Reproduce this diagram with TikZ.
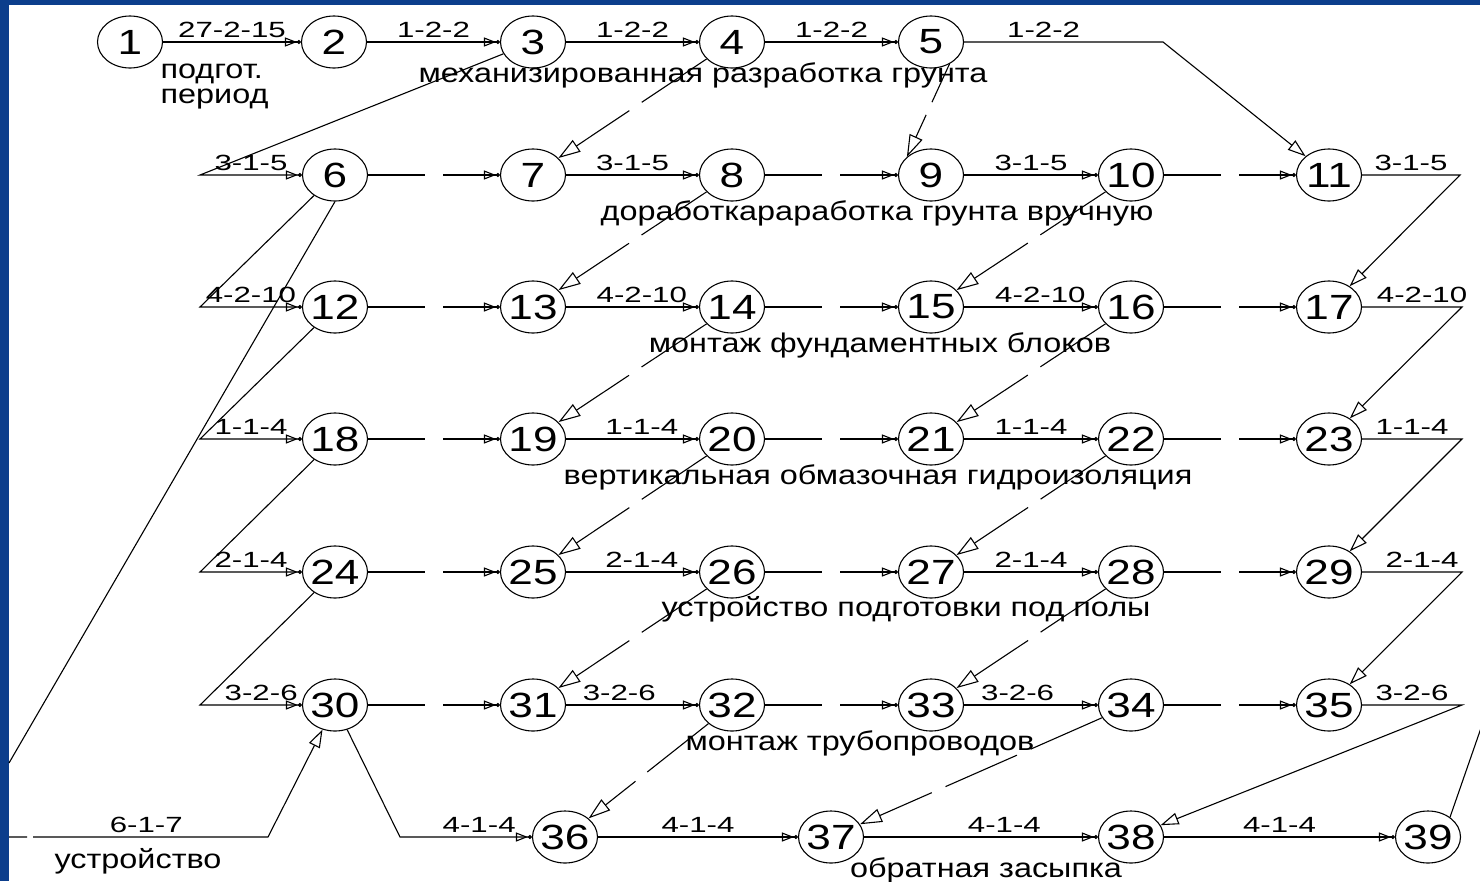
\documentclass[tikz,border=0pt]{standalone}
\usepackage{fontspec}
\setmainfont{Liberation Sans}
\newfontfamily\numfont[FakeStretch=1.26]{Liberation Sans}
\newfontfamily\lblfont[FakeStretch=1.42]{Liberation Sans}
\newfontfamily\txtfont[FakeStretch=1.2]{Liberation Sans}
\usetikzlibrary{positioning,calc,arrows.meta,shapes.geometric}
\definecolor{slideblue}{RGB}{12,62,140}

\begin{document}
\begin{tikzpicture}
		[x=1pt, y=-1pt, line width=1.1pt,
		ev/.style={draw, ellipse, minimum width=65pt, minimum height=52pt,
			inner xsep=-6pt, inner ysep=0pt, font=\numfont\fontsize{35}{35}\selectfont},
		lbl/.style={above, inner sep=4pt, font=\lblfont\fontsize{22}{22}\selectfont},
		txt/.style={anchor=base, inner sep=0pt, font=\txtfont\fontsize{27}{27}\selectfont},
		work/.style={-{Triangle[open,length=12pt,width=9pt] Circle[length=4pt]}},
		wait/.style={work, dash pattern=on 57pt off 18pt on 400pt},
		turn/.style={-{Triangle[open,length=18pt,width=12pt]}},
		dep/.style={dash pattern=on 78pt off 15pt, -{Triangle[open,length=22pt,width=14pt]}}]
		\useasboundingbox (0,0) rectangle (1480,881);
		\clip (0,0) rectangle (1480,881);
		\fill[slideblue] (0,0) rectangle (1480,881);
		\fill[white] (9,5) rectangle (1481,882);

		% events
		\node[ev] (n1) at (130,42) {1};
		\node[ev] (n2) at (334,42) {2};
		\node[ev] (n3) at (533,42) {3};
		\node[ev] (n4) at (732,42) {4};
		\node[ev] (n5) at (931,42) {5};
		\node[ev] (n6) at (335,175) {6};
		\node[ev] (n7) at (533,175) {7};
		\node[ev] (n8) at (732,175) {8};
		\node[ev] (n9) at (931,175) {9};
		\node[ev] (n10) at (1131,175) {10};
		\node[ev] (n11) at (1329,175) {11};
		\node[ev] (n12) at (335,307) {12};
		\node[ev] (n13) at (533,307) {13};
		\node[ev] (n14) at (732,307) {14};
		\node[ev] (n15) at (931,307) {15};
		\node[ev] (n16) at (1131,307) {16};
		\node[ev] (n17) at (1329,307) {17};
		\node[ev] (n18) at (335,439) {18};
		\node[ev] (n19) at (533,439) {19};
		\node[ev] (n20) at (732,439) {20};
		\node[ev] (n21) at (931,439) {21};
		\node[ev] (n22) at (1131,439) {22};
		\node[ev] (n23) at (1329,439) {23};
		\node[ev] (n24) at (335,572) {24};
		\node[ev] (n25) at (533,572) {25};
		\node[ev] (n26) at (732,572) {26};
		\node[ev] (n27) at (931,572) {27};
		\node[ev] (n28) at (1131,572) {28};
		\node[ev] (n29) at (1329,572) {29};
		\node[ev] (n30) at (335,705) {30};
		\node[ev] (n31) at (533,705) {31};
		\node[ev] (n32) at (732,705) {32};
		\node[ev] (n33) at (931,705) {33};
		\node[ev] (n34) at (1131,705) {34};
		\node[ev] (n35) at (1329,705) {35};
		\node[ev] (n36) at (565,837) {36};
		\node[ev] (n37) at (831,837) {37};
		\node[ev] (n38) at (1131,837) {38};
		\node[ev] (n39) at (1428,837) {39};

		% corners of the broken works
		\coordinate (c3) at (200,175);
		\coordinate (c6) at (200,307);
		\coordinate (c12) at (200,439);
		\coordinate (c18) at (200,572);
		\coordinate (c24) at (200,705);
		\coordinate (c30) at (400,837);
		\coordinate (c5) at (1163,42);
		\coordinate (c11) at (1460,175);
		\coordinate (c17) at (1462,307);
		\coordinate (c23) at (1462,439);
		\coordinate (c29) at (1462,572);
		\coordinate (c35) at (1462,705);
		\coordinate (cl6) at (9,763);
		\coordinate (cb) at (9,837);
		\coordinate (c617) at (268,837);
		\coordinate (cr39) at (1481,728);

		% works
		\draw[work] (n1) -- node[lbl] {27-2-15} (n2);
		\draw[work] (n2) -- node[lbl] {1-2-2} (n3);
		\draw[work] (n3) -- node[lbl] {1-2-2} (n4);
		\draw[work] (n4) -- node[lbl] {1-2-2} (n5);
		\draw[turn] (n5) -- node[lbl, pos=0.4] {1-2-2} (c5) -- (n11);
		\draw[work] (n3) -- (c3) -- node[lbl] {3-1-5} (n6);
		\draw[dep] (n4) -- (n7);
		\draw[dep, dash pattern=on 42pt off 14pt on 200pt] (n5.-50) -- (n9.143);

		\draw[wait] (n6) -- (n7);
		\draw[work] (n7) -- node[lbl] {3-1-5} (n8);
		\draw[wait] (n8) -- (n9);
		\draw[work] (n9) -- node[lbl] {3-1-5} (n10);
		\draw[wait] (n10) -- (n11);
		\draw[turn] (n11) -- node[lbl] {3-1-5} (c11) -- (n17);
		\draw[work] (n6) -- (c6) -- node[lbl] {4-2-10} (n12);
		\draw (n6.south) -- (cl6);
		\draw[dep] (n8) -- (n13);
		\draw[dep] (n10) -- (n15);

		\draw[wait] (n12) -- (n13);
		\draw[work] (n13) -- node[lbl, pos=0.57] {4-2-10} (n14);
		\draw[wait] (n14) -- (n15);
		\draw[work] (n15) -- node[lbl, pos=0.57] {4-2-10} (n16);
		\draw[wait] (n16) -- (n17);
		\draw[turn] (n17) -- node[lbl, pos=0.6] {4-2-10} (c17) -- (n23);
		\draw[work] (n12) -- (c12) -- node[lbl] {1-1-4} (n18);
		\draw[dep] (n14) -- (n19);
		\draw[dep] (n16) -- (n21);

		\draw[wait] (n18) -- (n19);
		\draw[work] (n19) -- node[lbl, pos=0.57] {1-1-4} (n20);
		\draw[wait] (n20) -- (n21);
		\draw[work] (n21) -- node[lbl, pos=0.5] {1-1-4} (n22);
		\draw[wait] (n22) -- (n23);
		\draw[turn] (n23) -- node[lbl] {1-1-4} (c23) -- (n29);
		\draw[work] (n18) -- (c18) -- node[lbl] {2-1-4} (n24);
		\draw[dep] (n20) -- (n25);
		\draw[dep] (n22) -- (n27);

		\draw[wait] (n24) -- (n25);
		\draw[work] (n25) -- node[lbl, pos=0.57] {2-1-4} (n26);
		\draw[wait] (n26) -- (n27);
		\draw[work] (n27) -- node[lbl] {2-1-4} (n28);
		\draw[wait] (n28) -- (n29);
		\draw[turn] (n29) -- node[lbl, pos=0.6] {2-1-4} (c29) -- (n35);
		\draw[work] (n24) -- (c24) -- node[lbl, pos=0.6] {3-2-6} (n30);
		\draw[dep] (n26) -- (n31);
		\draw[dep] (n28) -- (n33);

		\draw[wait] (n30) -- (n31);
		\draw[work] (n31) -- node[lbl, pos=0.4] {3-2-6} (n32);
		\draw[wait] (n32) -- (n33);
		\draw[work] (n33) -- node[lbl, pos=0.4] {3-2-6} (n34);
		\draw[wait] (n34) -- (n35);
		\draw[turn] (n35) -- node[lbl] {3-2-6} (c35) -- (n38);
		\draw[work] (n30) -- (c30) -- node[lbl, pos=0.6] {4-1-4} (n36);
		\draw[dep] (n32) -- (n36);
		\draw[dep] (n34) -- (n37);

		\draw[work] (n36) -- node[lbl] {4-1-4} (n37);
		\draw[work] (n37) -- node[lbl, pos=0.6] {4-1-4} (n38);
		\draw[work] (n38) -- node[lbl] {4-1-4} (n39);
		\draw[turn, dash pattern=on 18pt off 6pt on 900pt] (cb) -- node[lbl, pos=0.53] {6-1-7} (c617) -- (n30);
		\draw (cr39) -- (n39.42);

		% names of the works
		\node[txt, anchor=base west] (tPrepA) at (160,78) {подгот.};
		\node[txt, anchor=base west] (tPrepB) at (160,103) {период};
		\node[txt] (tExcav) at (703,82) {механизированная разработка грунта};
		\node[txt] (tHand) at (877,220) {доработкараработка грунта вручную};
		\node[txt] (tFound) at (880,352) {монтаж фундаментных блоков};
		\node[txt] (tWater) at (878,484) {вертикальная обмазочная гидроизоляция};
		\node[txt] (tFloor) at (906,616) {устройство подготовки под полы};
		\node[txt] (tPipe) at (860,750) {монтаж трубопроводов};
		\node[txt] (tFill) at (986,877) {обратная засыпка};
		\node[txt] (tDevice) at (138,868) {устройство};
	\end{tikzpicture}
\end{document}
